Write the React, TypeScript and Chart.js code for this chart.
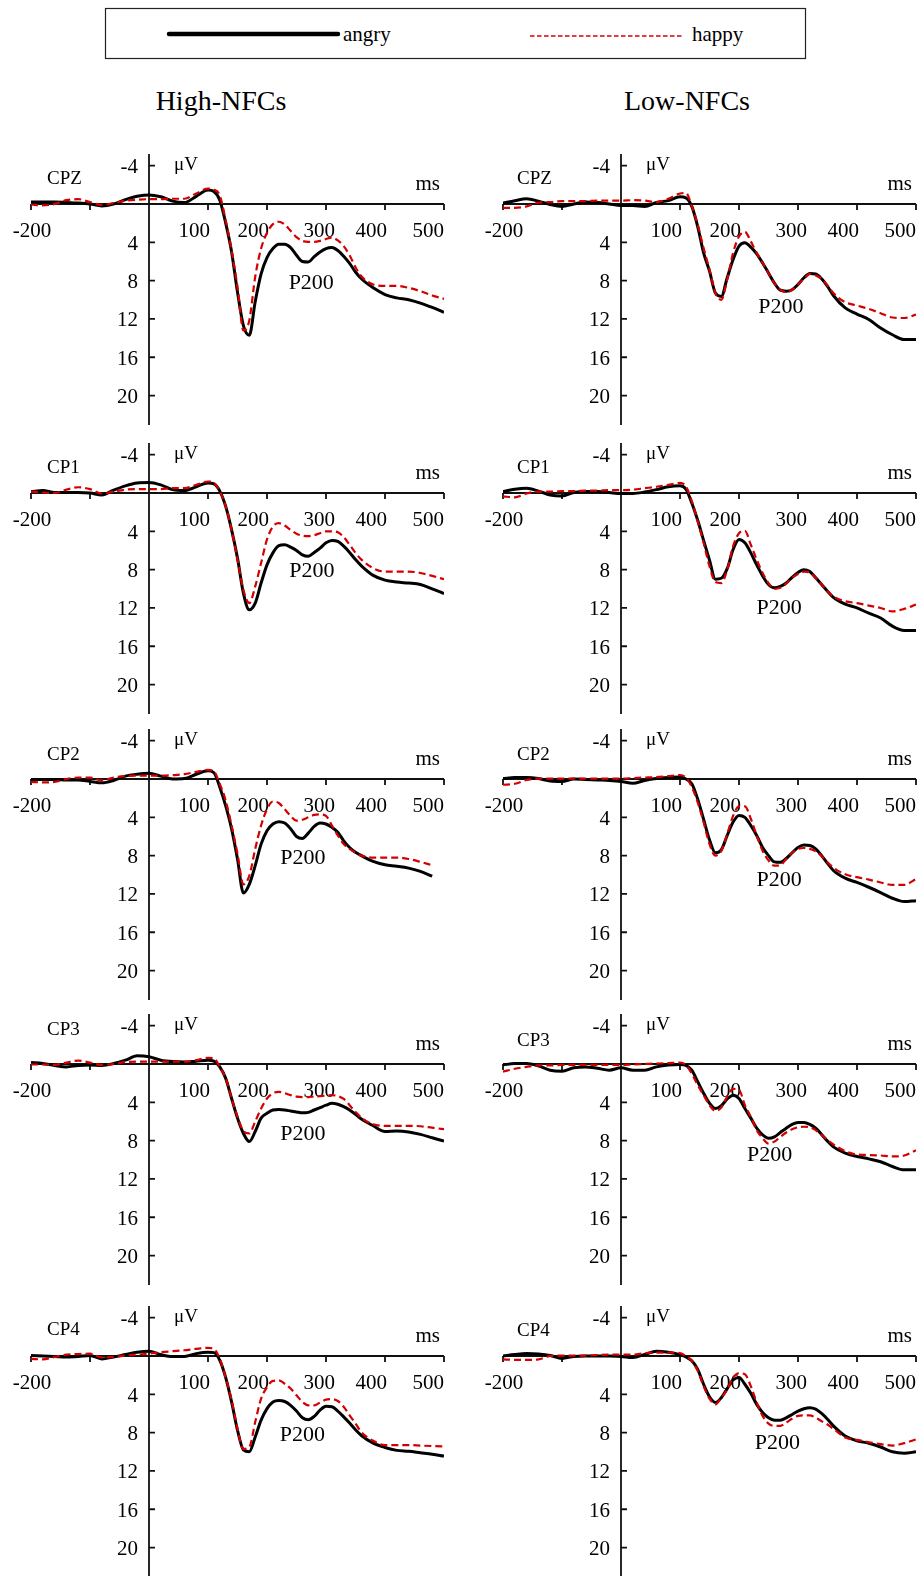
import React, { useEffect, useRef } from 'react';
import { Chart, registerables } from 'chart.js';

Chart.register(...registerables);

// ---------------- DATA ----------------
const times = [-200, -180, -160, -140, -120, -100, -80, -60, -40, -20, 0, 20, 40, 60, 80, 100,
  110, 120, 130, 140, 150, 160, 170, 180, 190, 200, 210, 220, 230, 240, 250, 260, 270, 280, 290, 300, 310, 320, 330, 340, 350, 360,
  380, 400, 420, 440, 460, 480, 500];

const xTickValues = [-200, -100, 0, 100, 200, 300, 400, 500];
const xLabelValues = [-200, 100, 200, 300, 400, 500];
const yTickValues = [-4, 4, 8, 12, 16, 20];
const yLabelValues = [-4, 4, 8, 12, 16, 20];

const cpzHighAngry = [-0.2, -0.2, -0.2, -0.15, -0.1, 0.0, 0.2, 0.0, -0.45, -0.8, -0.95, -0.75, -0.3, -0.15, -0.8, -1.45,
  -1.3, -0.4, 2.0, 5.0, 9.2, 12.7, 13.7, 10.2, 7.3, 5.6, 4.65, 4.2, 4.2, 4.55, 5.35, 6.0, 6.05, 5.5, 5.0, 4.65, 4.55, 4.85, 5.45, 6.2, 7.1, 7.8,
  8.75, 9.45, 9.8, 10.0, 10.35, 10.8, 11.3];
const cpzHighHappy = [0.05, 0.15, 0.0, -0.4, -0.5, -0.2, 0.1, -0.1, -0.35, -0.45, -0.5, -0.5, -0.55, -0.55, -1.1, -1.6,
  -1.5, -0.9, 1.7, 4.85, 8.65, 13.2, 12.15, 7.6, 4.65, 3.0, 2.1, 1.85, 2.15, 2.8, 3.45, 3.85, 3.95, 3.95, 3.85, 3.65, 3.5, 3.8, 4.4, 5.35, 6.6, 7.55,
  8.4, 8.55, 8.55, 8.75, 9.1, 9.55, 9.9];
const cpzLowAngry = [-0.1, -0.35, -0.55, -0.3, 0.05, 0.25, 0.0, -0.2, -0.15, 0.0, 0.15, 0.15, 0.25, -0.15, -0.35, -0.75,
  -0.65, 0.25, 2.35, 5.1, 7.0, 9.3, 9.65, 7.7, 5.8, 4.4, 4.05, 4.5, 5.2, 6.15, 7.2, 8.25, 9.0, 9.1, 8.95, 8.4, 7.7, 7.25, 7.3, 7.8, 8.6, 9.55,
  10.85, 11.5, 12.05, 12.95, 13.65, 14.15, 14.15];
const cpzLowHappy = [0.4, 0.4, 0.25, -0.15, -0.2, -0.3, -0.3, -0.3, -0.35, -0.35, -0.35, -0.4, -0.35, -0.2, -0.55, -1.1,
  -1.15, 0.2, 2.15, 4.6, 6.85, 9.3, 10.0, 7.9, 5.1, 3.4, 2.9, 3.9, 5.1, 6.15, 7.2, 8.25, 8.95, 9.2, 8.95, 8.4, 7.8, 7.3, 7.45, 7.8, 8.5, 9.3,
  10.25, 10.6, 10.95, 11.4, 11.85, 11.9, 11.55];

const cp1HighAngry = [-0.15, -0.25, -0.05, -0.05, -0.05, 0.0, 0.2, -0.3, -0.75, -1.05, -1.1, -0.85, -0.35, -0.25, -0.65, -1.05,
  -0.95, -0.2, 1.4, 3.85, 6.8, 10.45, 12.2, 11.5, 9.4, 7.5, 6.25, 5.5, 5.4, 5.65, 6.0, 6.45, 6.6, 6.2, 5.75, 5.2, 4.95, 5.05, 5.55, 6.2, 6.95, 7.6,
  8.6, 9.1, 9.3, 9.4, 9.55, 10.0, 10.5];
const cp1HighHappy = [-0.15, -0.05, 0.0, -0.35, -0.6, -0.4, 0.05, -0.15, -0.35, -0.4, -0.4, -0.4, -0.5, -0.5, -0.85, -1.2,
  -1.05, -0.2, 1.4, 3.85, 6.95, 10.1, 11.5, 9.75, 7.3, 4.85, 3.5, 3.15, 3.4, 3.85, 4.25, 4.45, 4.5, 4.4, 4.2, 4.0, 4.0, 4.1, 4.6, 5.4, 6.25, 6.95,
  7.85, 8.2, 8.2, 8.2, 8.35, 8.65, 9.0];
const cp1LowAngry = [-0.15, -0.4, -0.5, -0.2, 0.2, 0.3, -0.05, -0.15, -0.15, -0.05, 0.05, 0.05, -0.1, -0.35, -0.65, -0.75,
  -0.4, 1.05, 2.85, 4.95, 7.0, 9.0, 8.9, 7.9, 5.9, 4.85, 5.2, 6.25, 7.5, 8.65, 9.55, 9.9, 9.75, 9.4, 8.8, 8.3, 8.0, 8.2, 8.85, 9.55, 10.25, 10.9,
  11.6, 12.0, 12.55, 13.05, 13.9, 14.35, 14.35];
const cp1LowHappy = [0.35, 0.45, 0.05, -0.15, -0.15, -0.2, -0.2, -0.25, -0.25, -0.3, -0.3, -0.35, -0.5, -0.65, -0.85, -1.05,
  -0.7, 0.85, 2.95, 5.2, 7.65, 9.3, 9.4, 8.0, 5.55, 4.2, 3.95, 5.4, 6.95, 8.35, 9.4, 10.0, 9.9, 9.45, 8.85, 8.45, 8.2, 8.3, 8.85, 9.55, 10.25, 10.8,
  11.3, 11.5, 11.75, 12.0, 12.35, 12.1, 11.65];

const cp2HighAngry = [0.05, 0.05, 0.05, 0.1, 0.1, 0.25, 0.4, 0.15, -0.3, -0.5, -0.6, -0.3, 0.0, -0.05, -0.5, -0.85,
  -0.65, 0.85, 2.8, 5.2, 8.35, 11.9, 11.0, 9.05, 6.8, 5.4, 4.7, 4.45, 4.6, 5.2, 6.0, 6.2, 5.65, 4.95, 4.6, 4.7, 5.05, 5.55, 6.45, 7.15, 7.65, 8.0,
  8.6, 8.95, 9.1, 9.3, 9.65, 10.15, null];
const cp2HighHappy = [0.3, 0.35, 0.3, 0.0, -0.15, -0.15, 0.15, -0.15, -0.3, -0.35, -0.35, -0.35, -0.4, -0.5, -0.75, -0.95,
  -0.8, 0.5, 2.25, 4.85, 7.8, 11.0, 10.1, 7.3, 4.85, 3.15, 2.35, 2.5, 3.15, 3.85, 4.35, 4.25, 4.0, 3.75, 3.7, 3.85, 4.85, 5.9, 6.8, 7.3, 7.7, 8.0,
  8.2, 8.2, 8.2, 8.35, 8.65, 9.0, null];
const cp2LowAngry = [-0.05, -0.15, -0.15, -0.05, 0.2, 0.25, 0.0, 0.05, 0.1, 0.15, 0.25, 0.45, 0.15, -0.05, -0.15, -0.2,
  0.0, 0.5, 2.1, 4.2, 6.35, 7.7, 7.4, 5.9, 4.5, 3.8, 4.0, 4.85, 5.9, 7.15, 8.0, 8.65, 8.7, 8.3, 7.7, 7.15, 6.9, 6.95, 7.3, 8.0, 8.8, 9.55,
  10.35, 10.8, 11.3, 11.85, 12.45, 12.8, 12.7];
const cp2LowHappy = [0.6, 0.5, 0.1, -0.05, -0.05, -0.05, -0.05, -0.05, -0.05, -0.05, -0.05, -0.1, -0.15, -0.2, -0.3, -0.4,
  -0.15, 0.85, 2.45, 4.5, 6.8, 8.0, 7.5, 5.75, 3.85, 2.85, 2.85, 4.15, 5.9, 7.5, 8.5, 9.05, 9.0, 8.35, 7.7, 7.3, 7.2, 7.3, 7.55, 8.05, 8.7, 9.25,
  9.95, 10.25, 10.5, 10.8, 11.05, 11.05, 10.45];

const cp3HighAngry = [-0.15, -0.05, 0.15, 0.3, 0.15, 0.1, 0.15, -0.05, -0.4, -0.85, -0.75, -0.4, -0.25, -0.2, -0.3, -0.4,
  -0.3, 0.3, 1.5, 3.6, 5.65, 7.25, 8.1, 7.05, 5.65, 5.15, 4.8, 4.75, 4.8, 4.9, 5.0, 5.1, 5.05, 4.8, 4.55, 4.3, 4.1, 4.2, 4.45, 4.8, 5.25, 5.75,
  6.45, 7.05, 7.0, 7.1, 7.35, 7.7, 8.05];
const cp3HighHappy = [0.05, 0.05, 0.1, -0.15, -0.35, -0.15, 0.1, 0.0, -0.2, -0.25, -0.25, -0.25, -0.25, -0.25, -0.4, -0.65,
  -0.6, 0.3, 1.5, 3.6, 5.5, 7.0, 7.25, 6.0, 4.65, 3.6, 3.05, 2.9, 3.05, 3.25, 3.4, 3.45, 3.45, 3.4, 3.35, 3.3, 3.25, 3.35, 3.65, 4.3, 5.0, 5.6,
  6.3, 6.45, 6.45, 6.45, 6.5, 6.65, 6.8];
const cp3LowAngry = [0.1, -0.05, -0.05, 0.2, 0.65, 0.75, 0.4, 0.3, 0.45, 0.65, 0.4, 0.65, 0.65, 0.3, 0.1, 0.05,
  0.15, 0.65, 1.85, 3.05, 4.1, 4.65, 4.35, 3.65, 3.25, 3.6, 4.65, 5.65, 6.7, 7.4, 7.75, 7.6, 7.15, 6.7, 6.3, 6.1, 6.1, 6.3, 6.7, 7.35, 8.05, 8.65,
  9.3, 9.65, 9.9, 10.2, 10.7, 11.05, 11.05];
const cp3LowHappy = [0.8, 0.5, 0.3, 0.15, 0.15, 0.1, 0.1, 0.1, 0.1, 0.1, 0.1, 0.05, 0.0, -0.05, -0.1, -0.15,
  0.1, 1.0, 2.2, 3.25, 4.3, 4.9, 4.55, 3.4, 2.6, 2.7, 4.3, 5.5, 6.9, 7.75, 8.3, 8.1, 7.6, 7.15, 6.8, 6.6, 6.55, 6.6, 6.9, 7.4, 7.95, 8.4,
  9.1, 9.45, 9.5, 9.55, 9.65, 9.55, 9.0];

const cp4HighAngry = [-0.05, 0.0, 0.05, 0.1, 0.05, -0.05, 0.3, 0.1, -0.15, -0.4, -0.5, -0.15, 0.05, 0.05, -0.25, -0.4,
  -0.35, 0.45, 2.25, 4.8, 7.75, 9.8, 10.0, 8.45, 6.7, 5.5, 4.8, 4.65, 4.75, 5.15, 5.75, 6.45, 6.65, 6.3, 5.65, 5.25, 5.3, 5.75, 6.35, 7.0, 7.7, 8.3,
  9.1, 9.55, 9.85, 9.95, 10.1, 10.25, 10.45];
const cp4HighHappy = [0.3, 0.35, 0.1, -0.15, -0.2, -0.25, 0.15, 0.1, -0.05, -0.15, -0.25, -0.4, -0.5, -0.6, -0.75, -0.85,
  -0.75, 0.3, 2.25, 4.6, 7.6, 9.7, 9.5, 6.9, 4.45, 3.25, 2.6, 2.55, 2.9, 3.4, 4.1, 4.8, 5.15, 5.15, 4.85, 4.55, 4.5, 4.7, 5.3, 6.2, 7.05, 7.95,
  8.85, 9.3, 9.3, 9.3, 9.35, 9.4, 9.45];
const cp4LowAngry = [0.0, -0.15, -0.25, -0.2, -0.05, 0.25, 0.05, 0.0, 0.0, 0.0, 0.05, 0.15, -0.15, -0.5, -0.4, -0.15,
  0.1, 0.5, 1.4, 2.95, 4.25, 4.85, 4.35, 3.4, 2.5, 2.25, 2.95, 3.9, 5.05, 5.9, 6.45, 6.7, 6.7, 6.45, 6.1, 5.75, 5.5, 5.4, 5.55, 6.0, 6.6, 7.3,
  8.35, 8.85, 9.1, 9.5, 10.0, 10.15, 10.0];
const cp4LowHappy = [0.35, 0.4, 0.4, 0.35, 0.0, -0.05, -0.05, -0.05, -0.1, -0.15, -0.15, -0.15, -0.3, -0.35, -0.35, -0.3,
  0.0, 0.5, 1.55, 3.15, 4.45, 5.05, 4.35, 3.5, 2.25, 1.8, 1.9, 3.15, 4.85, 6.25, 7.05, 7.3, 7.3, 6.95, 6.55, 6.25, 6.2, 6.2, 6.45, 6.8, 7.15, 7.6,
  8.5, 8.75, 9.0, 9.2, 9.35, 9.1, 8.7];

// ---------------- LAYOUT / STYLE ----------------
const RED = '#d40000';
const AXIS = '#111111';
const FONT = '"Liberation Serif", "Times New Roman", serif';
const CANVAS_W = 452;
const CANVAS_H = 290;
const ZERO_IN_CANVAS = 60;
const rowZero = [203.7, 493.3, 779.3, 1064.3, 1355.7];
const colLeft = [0, 472];

type Panel = {
  name: string; col: number; row: number; angry: (number | null)[]; happy: (number | null)[];
  p200: [number, number]; nameDy: number;
};

const panels: Panel[] = [
  { name: 'CPZ', col: 0, row: 0, angry: cpzHighAngry, happy: cpzHighHappy, p200: [275, 8.3], nameDy: -25 },
  { name: 'CPZ', col: 1, row: 0, angry: cpzLowAngry, happy: cpzLowHappy, p200: [271, 10.75], nameDy: -25 },
  { name: 'CP1', col: 0, row: 1, angry: cp1HighAngry, happy: cp1HighHappy, p200: [276, 8.2], nameDy: -25 },
  { name: 'CP1', col: 1, row: 1, angry: cp1LowAngry, happy: cp1LowHappy, p200: [268, 12.0], nameDy: -25 },
  { name: 'CP2', col: 0, row: 2, angry: cp2HighAngry, happy: cp2HighHappy, p200: [261, 8.3], nameDy: -24 },
  { name: 'CP2', col: 1, row: 2, angry: cp2LowAngry, happy: cp2LowHappy, p200: [268, 10.55], nameDy: -24 },
  { name: 'CP3', col: 0, row: 3, angry: cp3HighAngry, happy: cp3HighHappy, p200: [261, 7.3], nameDy: -34 },
  { name: 'CP3', col: 1, row: 3, angry: cp3LowAngry, happy: cp3LowHappy, p200: [252, 9.55], nameDy: -23 },
  { name: 'CP4', col: 0, row: 4, angry: cp4HighAngry, happy: cp4HighHappy, p200: [260, 8.3], nameDy: -26 },
  { name: 'CP4', col: 1, row: 4, angry: cp4LowAngry, happy: cp4LowHappy, p200: [265, 9.15], nameDy: -25 },
];

const erpAxes = {
  id: 'erpAxes',
  beforeDatasetsDraw(chart: any) {
    const o = chart.options.plugins.erpAxes;
    const { ctx, chartArea } = chart;
    const xs = chart.scales.x;
    const ys = chart.scales.y;
    const x0 = xs.getPixelForValue(0);
    const y0 = ys.getPixelForValue(0);
    ctx.save();
    ctx.strokeStyle = AXIS;
    ctx.lineWidth = 1.8;
    ctx.beginPath();
    ctx.moveTo(xs.getPixelForValue(-200), y0);
    ctx.lineTo(xs.getPixelForValue(500), y0);
    ctx.moveTo(x0, chartArea.top);
    ctx.lineTo(x0, chartArea.bottom);
    xTickValues.forEach((v) => {
      const x = xs.getPixelForValue(v);
      ctx.moveTo(x, y0);
      ctx.lineTo(x, y0 + 6);
    });
    yTickValues.forEach((v) => {
      const y = ys.getPixelForValue(v);
      ctx.moveTo(x0, y);
      ctx.lineTo(x0 + 6, y);
    });
    ctx.stroke();

    ctx.fillStyle = '#000';
    ctx.font = `21px ${FONT}`;
    ctx.textBaseline = 'middle';
    xLabelValues.forEach((v) => {
      const x = xs.getPixelForValue(v);
      if (v === -200) {
        ctx.textAlign = 'center';
        ctx.fillText(String(v), x + 1, y0 + 27);
      } else {
        ctx.textAlign = 'right';
        ctx.fillText(String(v), x + (v === 300 ? 9 : v === 500 ? 0 : 2), y0 + 27);
      }
    });
    ctx.textAlign = 'right';
    yLabelValues.forEach((v) => {
      ctx.fillText(String(v), x0 - 11, ys.getPixelForValue(v) + 2);
    });
    ctx.textAlign = 'right';
    ctx.fillText('ms', xs.getPixelForValue(500) - 4, y0 - 20);
    ctx.font = `19px ${FONT}`;
    ctx.textAlign = 'left';
    ctx.fillText('\u03BCV', x0 + 25, y0 - 38.5);
    ctx.fillText(o.name, o.col === 0 ? 47 : 45, y0 + o.nameDy);
    ctx.font = `22px ${FONT}`;
    ctx.textAlign = 'center';
    ctx.fillText('P200', xs.getPixelForValue(o.p200[0]), ys.getPixelForValue(o.p200[1]));
    ctx.restore();
  },
};

function ErpPanel({ p }: { p: Panel }) {
  const ref = useRef<HTMLCanvasElement | null>(null);
  useEffect(() => {
    if (!ref.current) return;
    const toPts = (arr: (number | null)[]) => times.map((t, i) => ({ x: t, y: arr[i] }));
    const chart = new Chart(ref.current, {
      type: 'line',
      data: {
        datasets: [
          {
            label: 'angry', data: toPts(p.angry) as any, borderColor: '#000', borderWidth: 3,
            pointRadius: 0, cubicInterpolationMode: 'monotone', order: 1, fill: false,
          },
          {
            label: 'happy', data: toPts(p.happy) as any, borderColor: RED, borderWidth: 2.2,
            borderDash: [7, 4], pointRadius: 0, cubicInterpolationMode: 'monotone', order: 0, fill: false,
          },
        ],
      },
      options: {
        animation: false,
        responsive: false,
        maintainAspectRatio: false,
        devicePixelRatio: 1,
        layout: { padding: { left: 31, right: 8, top: 10, bottom: 9 } },
        scales: {
          x: { type: 'linear', min: -200, max: 500, display: false },
          y: { type: 'linear', min: -5.22, max: 23.07, reverse: true, display: false },
        },
        plugins: {
          legend: { display: false },
          tooltip: { enabled: false },
          erpAxes: { name: p.name, col: p.col, nameDy: p.nameDy, p200: p.p200 },
        } as any,
      },
      plugins: [erpAxes],
    });
    return () => chart.destroy();
  }, [p]);
  const top = Math.round(rowZero[p.row] - ZERO_IN_CANVAS);
  return (
    <canvas
      ref={ref}
      width={CANVAS_W}
      height={CANVAS_H}
      style={{ position: 'absolute', left: colLeft[p.col], top, width: CANVAS_W, height: CANVAS_H }}
    />
  );
}

export default function App() {
  return (
    <div style={{ position: 'absolute', left: 0, top: 0, width: 924, height: 1576, overflow: 'hidden', background: '#fff' }}>
      <svg width={924} height={130} style={{ position: 'absolute', left: 0, top: 0 }}>
        <rect x={105.5} y={8.5} width={700} height={50} fill="#fff" stroke="#222" strokeWidth={1.2} />
        <line x1={169} y1={34} x2={338} y2={34} stroke="#000" strokeWidth={4.5} strokeLinecap="round" />
        <text x={343} y={41} fontFamily={FONT} fontSize={21} fill="#000">angry</text>
        <line x1={530} y1={36} x2={684} y2={36} stroke={RED} strokeWidth={1.5} strokeDasharray="4.5 2.5" />
        <text x={692} y={41} fontFamily={FONT} fontSize={21} fill="#000">happy</text>
        <text x={221} y={110} textAnchor="middle" fontFamily={FONT} fontSize={28} fill="#000">High-NFCs</text>
        <text x={687} y={110} textAnchor="middle" fontFamily={FONT} fontSize={28} fill="#000">Low-NFCs</text>
      </svg>
      {panels.map((p, i) => (
        <ErpPanel key={i} p={p} />
      ))}
    </div>
  );
}
